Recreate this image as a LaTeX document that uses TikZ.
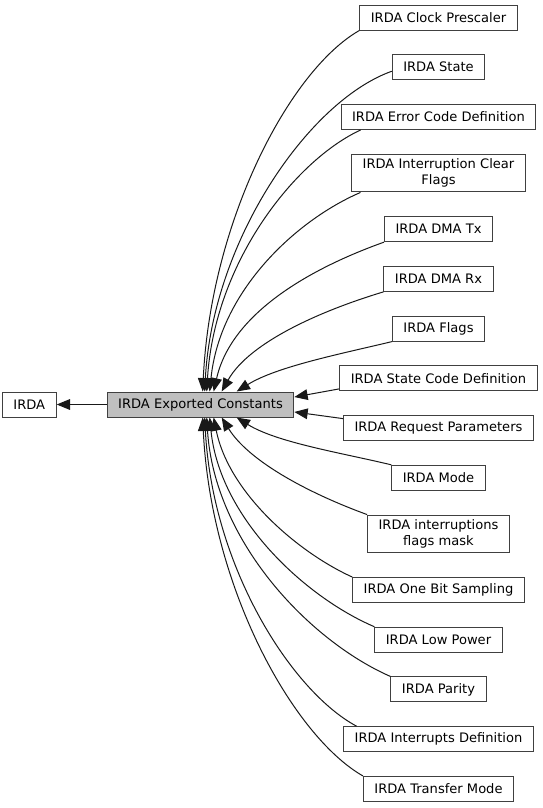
\documentclass[tikz,border=0pt]{standalone}
\usepackage{fontspec}
\setmainfont{DejaVu Sans}
\usepackage{tikz}
\usetikzlibrary{positioning, arrows.meta, calc}

\begin{document}
\begin{tikzpicture}[
  x=0.75pt, y=-0.75pt,
  node distance=17.8pt and 37.5pt,
  box/.style={rectangle, draw=black!75, line width=0.75pt, fill=white,
              minimum height=18.75pt, inner xsep=8.25pt, inner ysep=3.4pt,
              font=\fontsize{9.8}{12}\selectfont, align=center, text=black},
  root/.style={box, fill=black!25},
  edge/.style={-{Triangle[length=10pt, width=8pt]}, line width=0.75pt, black!90},
]
  \useasboundingbox (0,0) rectangle (543,808);

  \node[root] (const) at (200.5,404.5) {IRDA Exported Constants};
  \node[box, left=of const] (irda) {IRDA};

  % group column
  \node[box] (prescaler) at (438.5,17.5) {IRDA Clock Prescaler};
  \node[box, below=of prescaler] (state) {IRDA State};
  \node[box, below=of state] (errcode) {IRDA Error Code Definition};
  \node[box, below=of errcode] (itclear) {IRDA Interruption Clear\\Flags};
  \node[box, below=of itclear] (dmatx) {IRDA DMA Tx};
  \node[box, below=of dmatx] (dmarx) {IRDA DMA Rx};
  \node[box, below=of dmarx] (flags) {IRDA Flags};
  \node[box, below=of flags] (statecode) {IRDA State Code Definition};
  \node[box, below=of statecode] (reqparam) {IRDA Request Parameters};
  \node[box, below=of reqparam] (mode) {IRDA Mode};
  \node[box, below=of mode] (itmask) {IRDA interruptions\\flags mask};
  \node[box, below=of itmask] (onebit) {IRDA One Bit Sampling};
  \node[box, below=of onebit] (lowpower) {IRDA Low Power};
  \node[box, below=of lowpower] (parity) {IRDA Parity};
  \node[box, below=of parity] (itdef) {IRDA Interrupts Definition};
  \node[box, below=of itdef] (transfer) {IRDA Transfer Mode};

  \draw[edge] (const) -- (irda);

  % upper curves
  \draw[edge] (prescaler.south west) .. controls +(-70,40) and +(8,-170) .. ($(const.north west)+(96,0)$);
  \draw[edge] ([yshift=-3pt]state.west) .. controls +(-84,30) and +(8,-150) .. ($(const.north west)+(98,0)$);
  \draw[edge] ([xshift=15pt]errcode.south west) .. controls +(-65,30) and +(8,-130) .. ($(const.north west)+(100,0)$);
  \draw[edge] ([xshift=7pt]itclear.south west) .. controls +(-65,28) and +(10,-100) .. ($(const.north west)+(103,0)$);
  \draw[edge] (dmatx.south west) .. controls +(-70,25) and +(18,-80) .. ($(const.north west)+(107,0)$);
  \draw[edge] (dmarx.south west) .. controls +(-60,18) and +(28,-50) .. ($(const.north west)+(115,0)$);
  \draw[edge] (flags.south west) .. controls +(-50,12) and +(40,-25) .. ($(const.north west)+(130,0)$);

  \draw[edge] ([yshift=-7.9pt]statecode.west) -- ([yshift=5.6pt]const.east);
  \draw[edge] ([yshift=7.1pt]reqparam.west) -- ([yshift=-5.6pt]const.east);

  % lower curves
  \draw[edge] (mode.north west) .. controls +(-50,-12) and +(40,25) .. ($(const.south west)+(130,0)$);
  \draw[edge] (itmask.north west) .. controls +(-55,-20) and +(28,45) .. ($(const.south west)+(115,0)$);
  \draw[edge] (onebit.north west) .. controls +(-55,-25) and +(15,75) .. ($(const.south west)+(107,0)$);
  \draw[edge] (lowpower.north west) .. controls +(-70,-30) and +(10,100) .. ($(const.south west)+(103,0)$);
  \draw[edge] (parity.north west) .. controls +(-80,-35) and +(8,125) .. ($(const.south west)+(100,0)$);
  \draw[edge] ([xshift=10pt]itdef.north west) .. controls +(-65,-35) and +(8,150) .. ($(const.south west)+(98,0)$);
  \draw[edge] (transfer.north west) .. controls +(-70,-40) and +(8,170) .. ($(const.south west)+(96,0)$);
\end{tikzpicture}
\end{document}
